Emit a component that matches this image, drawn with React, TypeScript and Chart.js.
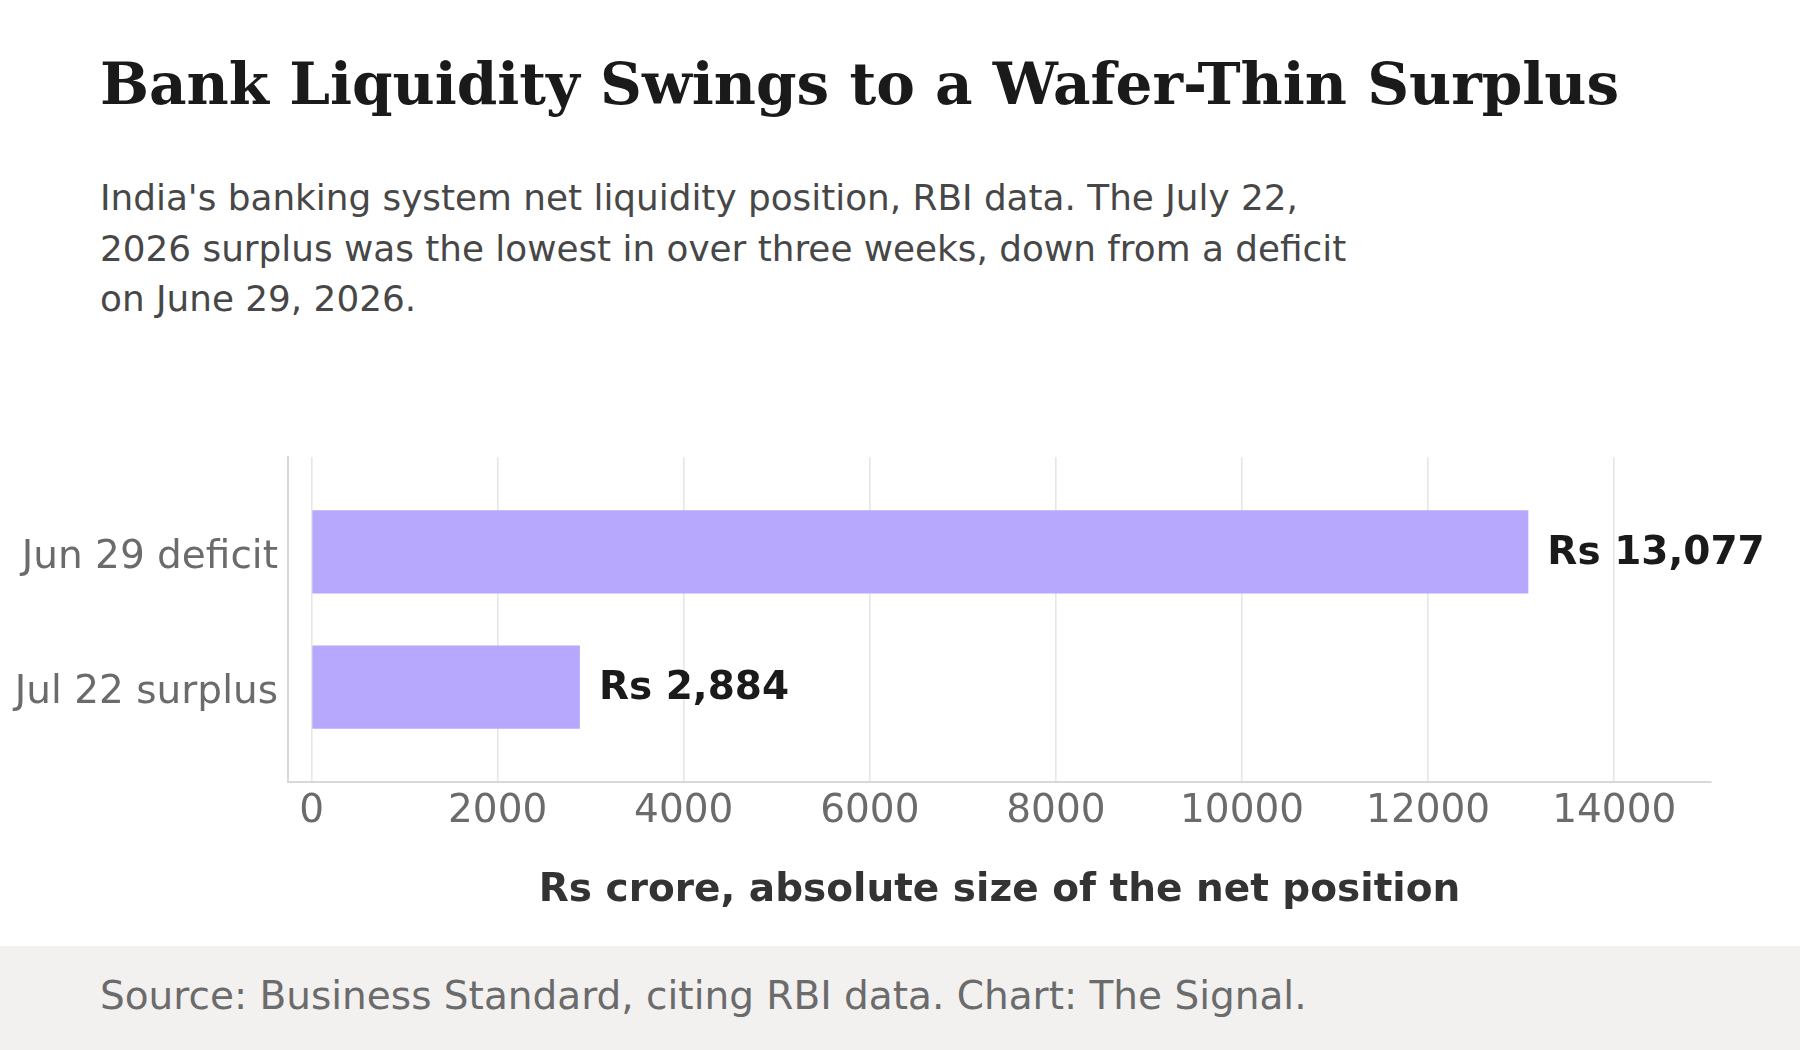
import React, { useEffect, useRef } from "react";
import { Chart, registerables } from "chart.js";

Chart.register(...registerables);

// Net liquidity position, absolute size in Rs crore
const categories = ["Jun 29 deficit", "Jul 22 surplus"];
const values = [13077, 2884];
const xTickValues = [0, 2000, 4000, 6000, 8000, 10000, 12000, 14000];
const xMin = -253;
const xMax = 15040;

const titleText = "Bank Liquidity Swings to a Wafer-Thin Surplus";
const subtitleLines = [
  "India's banking system net liquidity position, RBI data. The July 22,",
  "2026 surplus was the lowest in over three weeks, down from a deficit",
  "on June 29, 2026.",
];
const xAxisTitle = "Rs crore, absolute size of the net position";
const sourceText = "Source: Business Standard, citing RBI data. Chart: The Signal.";

const SANS = "'DejaVu Sans', 'Noto Sans', sans-serif";
const SERIF = "'DejaVu Serif', 'Liberation Serif', serif";
const BAR_COLOR = "#b7a8fd";
const GRID_COLOR = "#e6e6e2";
const AXIS_COLOR = "#d8d8d4";
const TICK_COLOR = "#6b6b6b";

const valueLabels = {
  id: "valueLabels",
  afterDatasetsDraw(chart: any) {
    const ctx = chart.ctx;
    const meta = chart.getDatasetMeta(0);
    ctx.save();
    ctx.font = `bold 39px ${SANS}`;
    ctx.fillStyle = "#1a1a1a";
    ctx.textAlign = "left";
    ctx.textBaseline = "middle";
    meta.data.forEach((bar: any, i: number) => {
      const v = values[i];
      ctx.fillText("Rs " + v.toLocaleString("en-US"), bar.x + 19, bar.y + 1.8);
    });
    ctx.restore();
  },
};

function BarChart() {
  const ref = useRef<HTMLCanvasElement | null>(null);

  useEffect(() => {
    if (!ref.current) return;
    Chart.defaults.font.family = SANS;
    const chart = new Chart(ref.current, {
      type: "bar",
      data: {
        datasets: [
          {
            data: categories.map((_, i) => ({ x: values[i], y: i })),
            backgroundColor: BAR_COLOR,
            borderWidth: 0,
            categoryPercentage: 1,
            barPercentage: 0.615,
          },
        ],
      },
      options: {
        indexAxis: "y",
        animation: false,
        responsive: false,
        maintainAspectRatio: false,
        layout: { padding: { top: 57.3, right: 89, bottom: 32, left: 0 } },
        plugins: {
          legend: { display: false },
          tooltip: { enabled: false },
        },
        scales: {
          x: {
            type: "linear",
            min: xMin,
            max: xMax,
            afterBuildTicks: (scale: any) => {
              scale.ticks = xTickValues.map((v) => ({ value: v }));
            },
            afterFit: (scale: any) => {
              scale.height = 132.3;
            },
            grid: {
              color: GRID_COLOR,
              lineWidth: 1.6,
              drawTicks: false,
            },
            border: { display: true, color: AXIS_COLOR, width: 2 },
            ticks: {
              color: TICK_COLOR,
              font: { size: 39 },
              padding: 6.5,
              maxRotation: 0,
              autoSkip: false,
              callback: (v: any) => String(v),
            },
            title: {
              display: true,
              text: xAxisTitle,
              color: "#333333",
              font: { size: 39, weight: "bold" },
              padding: { top: 0, bottom: 0 },
            },
          },
          y: {
            type: "linear",
            reverse: true,
            offset: false,
            min: -0.7,
            max: 1.7,
            afterBuildTicks: (scale: any) => {
              scale.ticks = categories.map((_, i) => ({ value: i }));
            },
            afterFit: (scale: any) => {
              scale.width = 288;
            },
            grid: { display: false, drawTicks: false, offset: false },
            border: { display: true, color: AXIS_COLOR, width: 2 },
            ticks: {
              color: TICK_COLOR,
              font: { size: 39 },
              padding: 10,
              labelOffset: 5.5,
              autoSkip: false,
              callback: (v: any) => categories[v] ?? "",
            },
          },
        },
      },
      plugins: [valueLabels],
    });
    return () => chart.destroy();
  }, []);

  return (
    <canvas
      ref={ref}
      width={1800}
      height={546}
      style={{ position: "absolute", left: 0, top: 400, width: 1800, height: 546 }}
    />
  );
}

export default function App() {
  return (
    <div
      style={{
        position: "absolute",
        left: 0,
        top: 0,
        width: 1800,
        height: 1050,
        background: "#ffffff",
        overflow: "hidden",
      }}
    >
      <div
        style={{
          position: "absolute",
          left: 100,
          top: 54.9,
          fontFamily: SERIF,
          fontWeight: "bold",
          fontSize: 58,
          lineHeight: "58px",
          color: "#1a1a1a",
          whiteSpace: "nowrap",
        }}
      >
        {titleText}
      </div>
      <div
        style={{
          position: "absolute",
          left: 100,
          top: 173,
          fontFamily: SANS,
          fontSize: 35.8,
          lineHeight: "50.5px",
          color: "#474747",
          whiteSpace: "nowrap",
        }}
      >
        {subtitleLines.map((line, i) => (
          <div key={i}>{line}</div>
        ))}
      </div>
      <BarChart />
      <div
        style={{
          position: "absolute",
          left: 0,
          top: 946,
          width: 1800,
          height: 104,
          background: "#f2f1f0",
        }}
      />
      <div
        style={{
          position: "absolute",
          left: 100,
          top: 976,
          fontFamily: SANS,
          fontSize: 39,
          lineHeight: "39px",
          color: TICK_COLOR,
          whiteSpace: "nowrap",
        }}
      >
        {sourceText}
      </div>
    </div>
  );
}
